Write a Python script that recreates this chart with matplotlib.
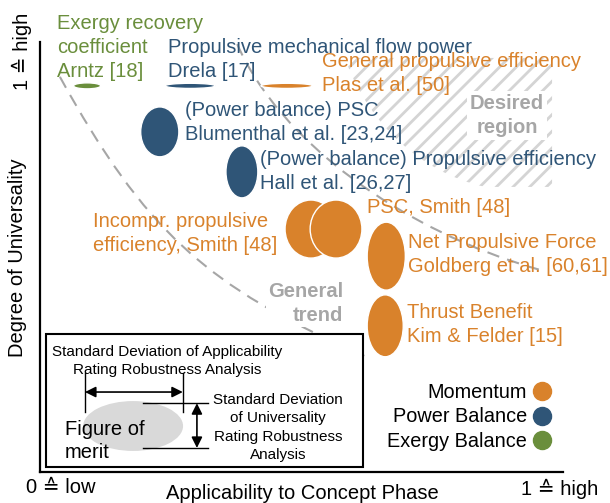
import matplotlib
matplotlib.use('Agg')
import matplotlib.pyplot as plt
from matplotlib.patches import Ellipse, Rectangle, PathPatch
from matplotlib.path import Path
from matplotlib.lines import Line2D

plt.rcParams['font.family'] = ['Liberation Sans', 'DejaVu Sans']
plt.rcParams['hatch.linewidth'] = 2.0

# figures of merit: applicability (x), universality (y) and the std of both ratings
names = ['Arntz [18]', 'Drela [17]', 'Plas et al. [50]', 'Blumenthal et al. [23,24]',
         'Hall et al. [26,27]', 'Incompr. Smith [48]', 'PSC Smith [48]',
         'Goldberg et al. [60,61]', 'Kim & Felder [15]']
applicability = [0.090, 0.287, 0.472, 0.229, 0.386, 0.518, 0.566, 0.662, 0.660]
universality = [0.898, 0.898, 0.898, 0.791, 0.698, 0.565, 0.565, 0.502, 0.340]
appl_std = [0.052, 0.096, 0.099, 0.073, 0.061, 0.099, 0.099, 0.073, 0.069]
univ_std = [0.014, 0.012, 0.012, 0.116, 0.121, 0.135, 0.135, 0.158, 0.144]
category = ['Exergy Balance', 'Power Balance', 'Momentum', 'Power Balance', 'Power Balance',
            'Momentum', 'Momentum', 'Momentum', 'Momentum']

colors = {'Momentum': '#D9822B', 'Power Balance': '#2F5577', 'Exergy Balance': '#6A8E3C'}
legend_order = ['Momentum', 'Power Balance', 'Exergy Balance']
gray = '#A6A6A6'

# bezier control points of the dashed trend guides
trend_low = [(0.038, 0.919), (0.200, 0.562), (0.316, 0.432), (0.620, 0.270)]
trend_up = [(0.377, 0.995), (0.457, 0.772), (0.689, 0.562), (0.956, 0.470)]

fig = plt.figure(figsize=(6.1, 5.03), dpi=100)
ax = fig.add_axes([0.0656, 0.0616, 0.8574, 0.8549])
ax.set_xlim(0, 1)
ax.set_ylim(0, 1)
ax.set_xticks([])
ax.set_yticks([])
for s in ['top', 'right']:
    ax.spines[s].set_visible(False)
for s in ['left', 'bottom']:
    ax.spines[s].set_linewidth(1.6)

# desired region (hatched)
region = Path([(0.583, 0.963), (0.979, 0.963), (0.979, 0.663), (0.851, 0.663),
               (0.707, 0.702), (0.616, 0.842), (0.583, 0.963), (0.583, 0.963)],
              [Path.MOVETO, Path.LINETO, Path.LINETO, Path.LINETO,
               Path.CURVE4, Path.CURVE4, Path.CURVE4, Path.CLOSEPOLY])
ax.add_patch(PathPatch(region, fill=False, hatch='//', edgecolor='#D4D4D4',
                       linewidth=0, zorder=1))

# trend guides
for pts in [trend_low, trend_up]:
    p = Path(pts, [Path.MOVETO, Path.CURVE4, Path.CURVE4, Path.CURVE4])
    ax.add_patch(PathPatch(p, fill=False, edgecolor=gray, linewidth=1.5,
                           linestyle=(0, (6, 4)), zorder=2))

# ellipses
for x, y, w, h, c in zip(applicability, universality, appl_std, univ_std, category):
    ax.add_patch(Ellipse((x, y), w, h, facecolor=colors[c], edgecolor='white',
                         linewidth=1, zorder=4))

# labels
fs = 14.5
lab = dict(fontsize=fs, va='center', ha='left', zorder=5, clip_on=False, linespacing=1.33)
ax.text(0.0325, 0.988, 'Exergy recovery\ncoefficient\nArntz [18]', color=colors['Exergy Balance'], **lab)
ax.text(0.245, 0.960, 'Propulsive mechanical flow power\nDrela [17]', color=colors['Power Balance'], **lab)
ax.text(0.539, 0.926, 'General propulsive efficiency\nPlas et al. [50]', color=colors['Momentum'], **lab)
ax.text(0.277, 0.812, '(Power balance) PSC\nBlumenthal et al. [23,24]', color=colors['Power Balance'], **lab)
ax.text(0.421, 0.699, '(Power balance) Propulsive efficiency\nHall et al. [26,27]', color=colors['Power Balance'], **lab)
ax.text(0.625, 0.616, 'PSC, Smith [48]', color=colors['Momentum'], **lab)
ax.text(0.101, 0.555, 'Incompr. propulsive\nefficiency, Smith [48]', color=colors['Momentum'], **lab)
ax.text(0.704, 0.505, 'Net Propulsive Force\nGoldberg et al. [60,61]', color=colors['Momentum'], **lab)
ax.text(0.702, 0.342, 'Thrust Benefit\nKim & Felder [15]', color=colors['Momentum'], **lab)

ax.text(0.893, 0.830, 'Desired\nregion', color=gray, fontsize=fs, fontweight='bold',
        ha='center', va='center', zorder=5, linespacing=1.33,
        bbox=dict(boxstyle='square,pad=0.15', fc='white', ec='none'))
ax.text(0.579, 0.391, 'General\ntrend', color=gray, fontsize=fs, fontweight='bold',
        ha='right', va='center', multialignment='right', zorder=5, linespacing=1.33,
        bbox=dict(boxstyle='square,pad=0.1', fc='white', ec='none'))

# explanation box
ax.add_patch(Rectangle((0.0115, 0.0116), 0.6065, 0.3094, fc='white', ec='black',
                       lw=1.5, zorder=6))
ax.add_patch(Ellipse((0.178, 0.107), 0.191, 0.116, fc='#D9D9D9', ec='none', zorder=7))
ax.text(0.048, 0.072, 'Figure of\nmerit', fontsize=fs, va='center', ha='left', zorder=8,
        linespacing=1.3)
small = dict(fontsize=11, ha='center', va='center', multialignment='center', zorder=8,
             linespacing=1.37)
ax.text(0.243, 0.258, 'Standard Deviation of Applicability\nRating Robustness Analysis', **small)
ax.text(0.455, 0.1035, 'Standard Deviation\nof Universality\nRating Robustness\nAnalysis', **small)
for xx in [0.086, 0.273]:
    ax.plot([xx, xx], [0.140, 0.230], color='black', lw=1, zorder=8)
for yy in [0.160, 0.056]:
    ax.plot([0.197, 0.321], [yy, yy], color='black', lw=1, zorder=8)
arr = dict(arrowstyle='<|-|>', color='black', lw=1.2, mutation_scale=16,
           shrinkA=0, shrinkB=0)
ax.annotate('', xy=(0.086, 0.186), xytext=(0.273, 0.186), arrowprops=arr, zorder=8)
ax.annotate('', xy=(0.300, 0.160), xytext=(0.300, 0.056), arrowprops=arr, zorder=8)

# legend
handles = [Line2D([], [], ls='none', marker='o', markersize=13, color=colors[k]) for k in legend_order]
ax.legend(handles, legend_order, loc='center right', bbox_to_anchor=(0.979, 0.128),
          frameon=False, markerfirst=False, fontsize=14.3, handlelength=1.0,
          handletextpad=0.25, labelspacing=0.28, borderpad=0, borderaxespad=0)

# axis texts
fig.text(0.0295, 0.487, 'Degree of Universality', rotation=90, fontsize=fs, ha='center', va='center')
fig.text(0.036, 0.897, '1 ≙ high', rotation=90, fontsize=fs, ha='center', va='center')
fig.text(0.495, 0.0179, 'Applicability to Concept Phase', fontsize=fs, ha='center', va='center')
fig.text(0.100, 0.0318, '0 ≙ low', fontsize=fs, ha='center', va='center')
fig.text(0.918, 0.028, '1 ≙ high', fontsize=fs, ha='center', va='center')

fig.savefig('out.png', dpi=100)
